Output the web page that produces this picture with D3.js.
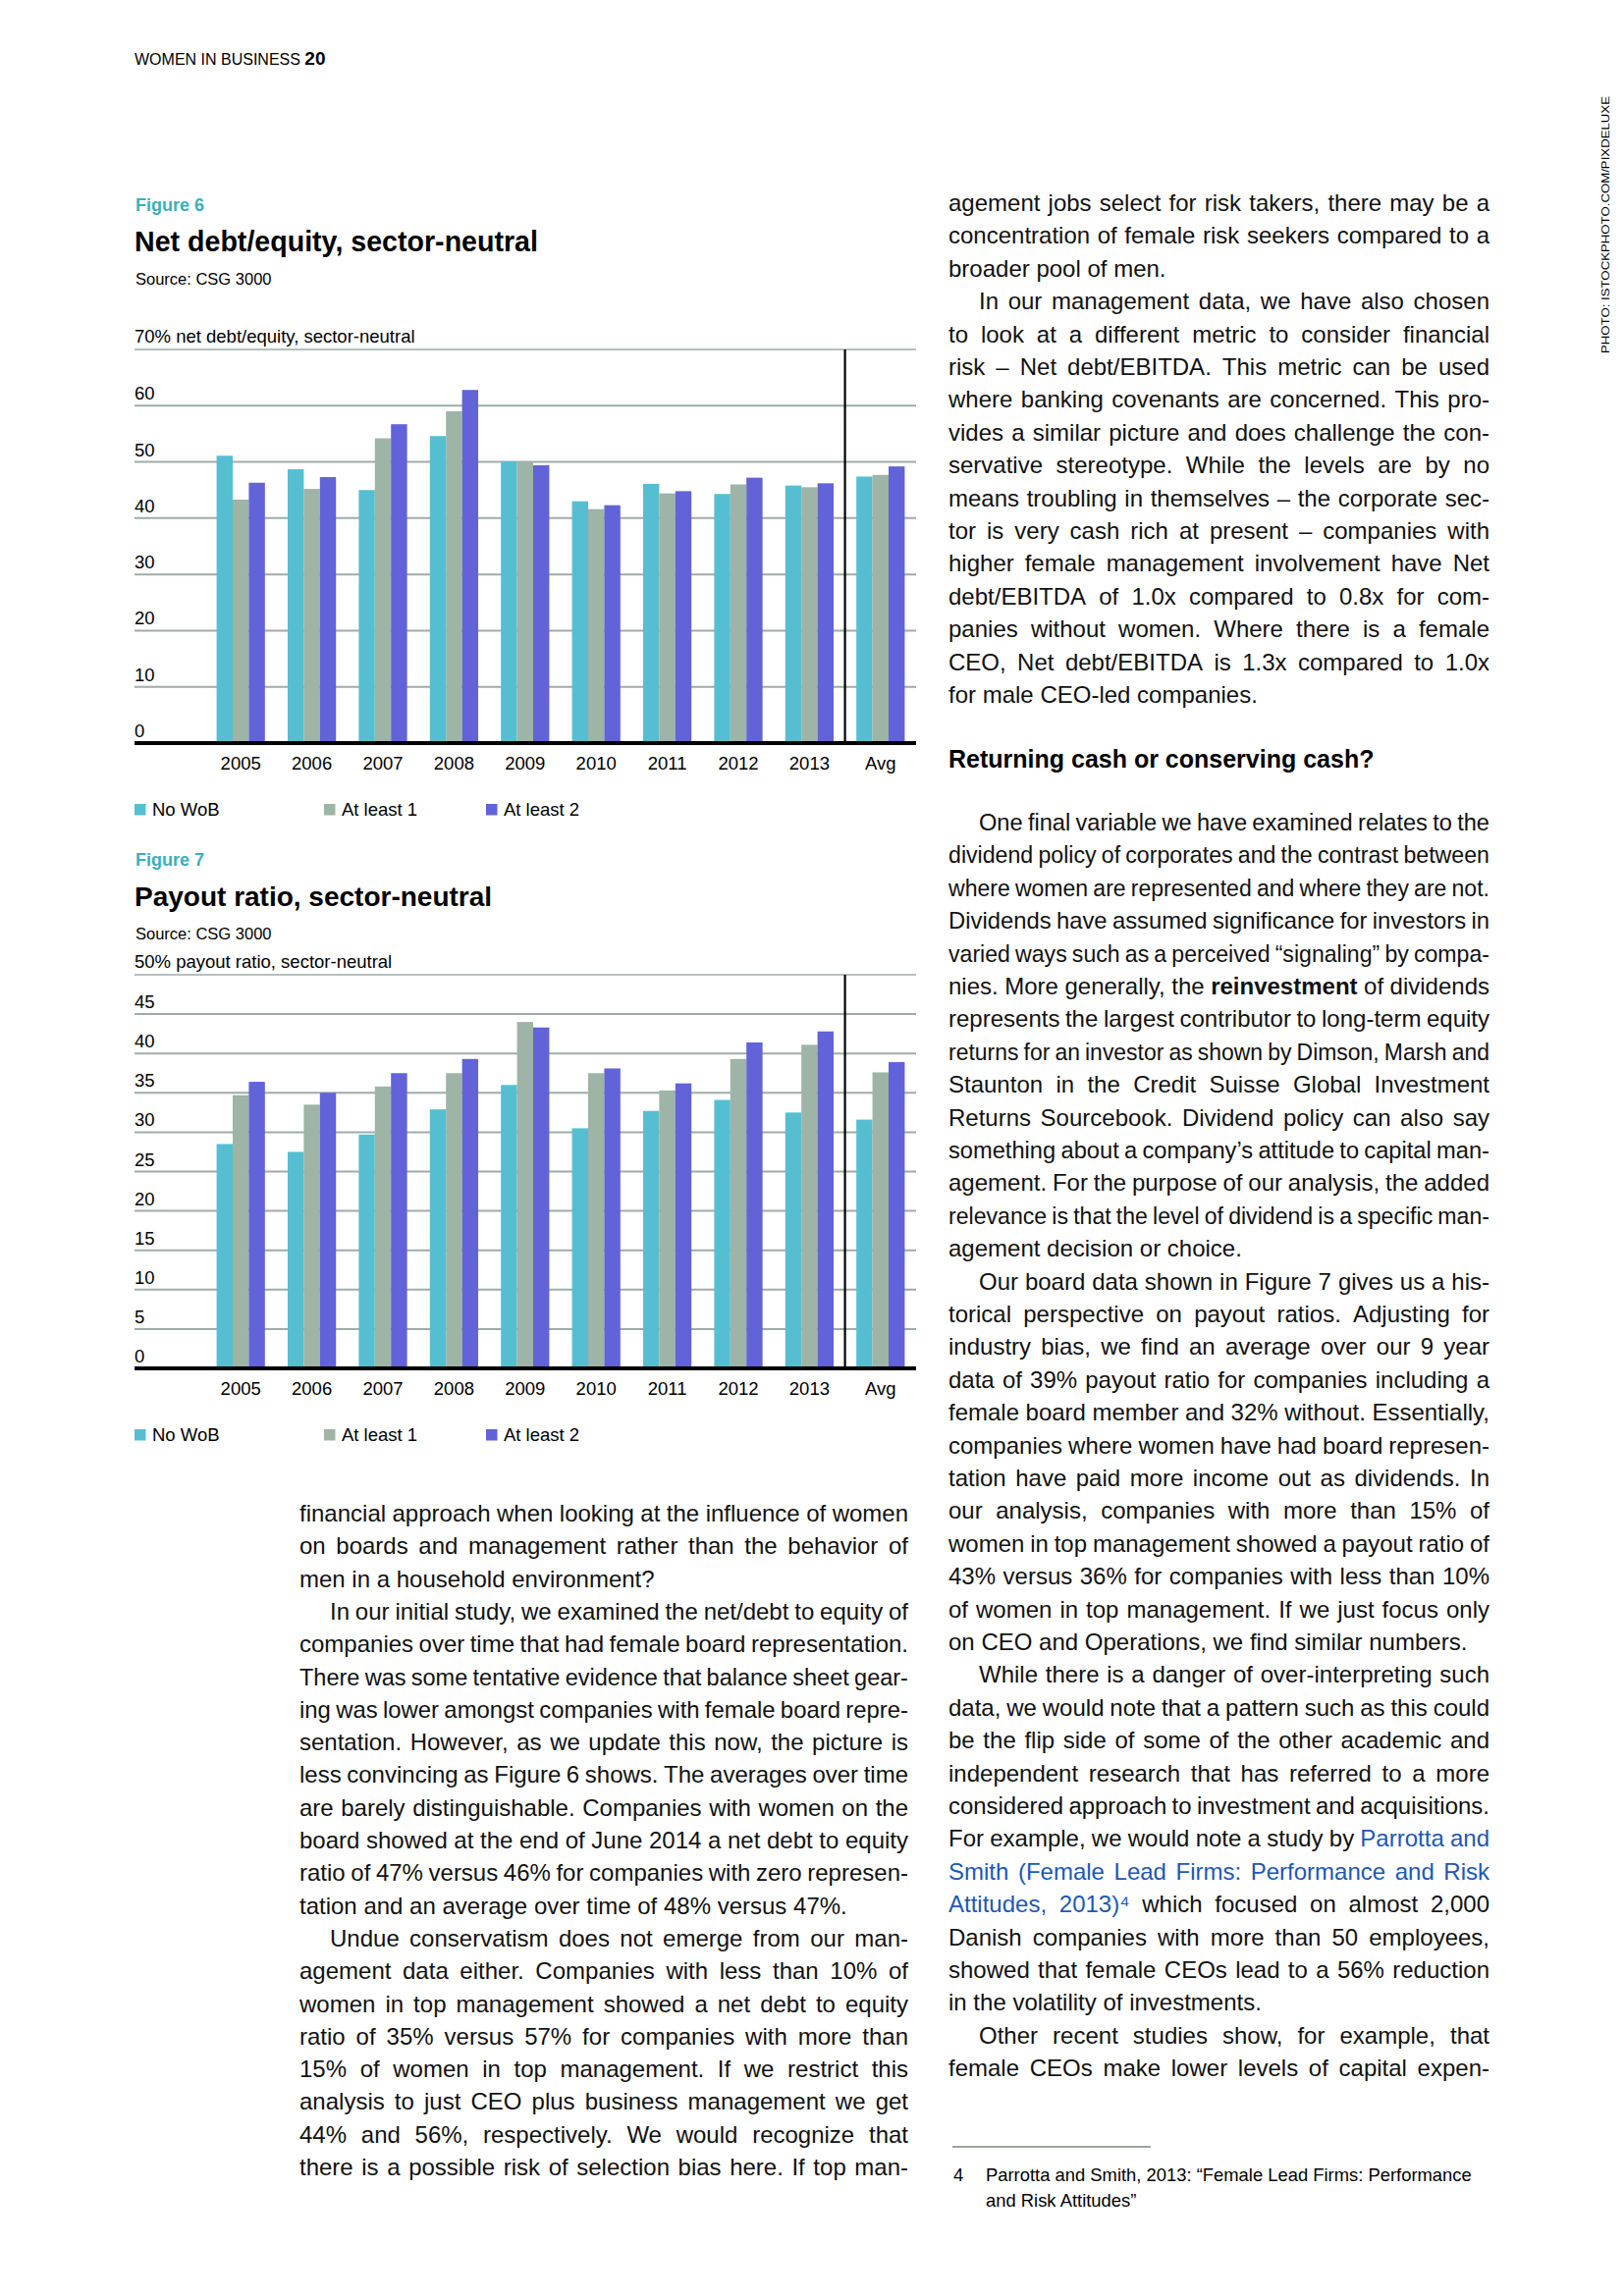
<!DOCTYPE html>
<html>
<head>
<meta charset="utf-8">
<script src="https://cdn.jsdelivr.net/npm/d3@7"></script>
<style>
  html, body { margin: 0; padding: 0; background: #fff; }
  svg { display: block; }
  text { font-family: "Liberation Sans", Arial, sans-serif; }
</style>
</head>
<body>
<div id="page"></div>
<script>
// chart data
const years = ["2005", "2006", "2007", "2008", "2009", "2010", "2011", "2012", "2013", "Avg"];
const seriesNames = ["No WoB", "At least 1", "At least 2"];
const seriesColors = ["#55bfd1", "#9db4a6", "#6262d9"];

// Figure 6: net debt/equity
const debtNoWoB = [51.1, 48.7, 45.0, 54.6, 50.1, 43.0, 46.1, 44.3, 45.8, 47.4];
const debtAtLeast1 = [43.3, 45.2, 54.2, 59.0, 50.1, 41.6, 44.4, 46.0, 45.5, 47.7];
const debtAtLeast2 = [46.3, 47.3, 56.7, 62.8, 49.4, 42.3, 44.8, 47.2, 46.2, 49.2];
const debtTicks = [0, 10, 20, 30, 40, 50, 60];

// Figure 7: payout ratio
const payNoWoB = [28.5, 27.5, 29.7, 32.9, 36.0, 30.5, 32.7, 34.1, 32.5, 31.6];
const payAtLeast1 = [34.7, 33.5, 35.8, 37.5, 44.0, 37.5, 35.3, 39.3, 41.1, 37.6];
const payAtLeast2 = [36.4, 35.0, 37.5, 39.3, 43.3, 38.1, 36.2, 41.4, 42.8, 38.9];
const payTicks = [0, 5, 10, 15, 20, 25, 30, 35, 40, 45];

// body copy ( ">" = indented first line, "|" = last line, "*" bold word, "^" link word )
const leftCol = [
  "financial approach when looking at the influence of women",
  "on boards and management rather than the behavior of",
  "men in a household environment?|",
  ">In our initial study, we examined the net/debt to equity of",
  "companies over time that had female board representation.",
  "There was some tentative evidence that balance sheet gear-",
  "ing was lower amongst companies with female board repre-",
  "sentation. However, as we update this now, the picture is",
  "less convincing as Figure 6 shows. The averages over time",
  "are barely distinguishable. Companies with women on the",
  "board showed at the end of June 2014 a net debt to equity",
  "ratio of 47% versus 46% for companies with zero represen-",
  "tation and an average over time of 48% versus 47%.|",
  ">Undue conservatism does not emerge from our man-",
  "agement data either. Companies with less than 10% of",
  "women in top management showed a net debt to equity",
  "ratio of 35% versus 57% for companies with more than",
  "15% of women in top management. If we restrict this",
  "analysis to just CEO plus business management we get",
  "44% and 56%, respectively. We would recognize that",
  "there is a possible risk of selection bias here. If top man-"
];
const rightTop = [
  "agement jobs select for risk takers, there may be a",
  "concentration of female risk seekers compared to a",
  "broader pool of men.|",
  ">In our management data, we have also chosen",
  "to look at a different metric to consider financial",
  "risk – Net debt/EBITDA. This metric can be used",
  "where banking covenants are concerned. This pro-",
  "vides a similar picture and does challenge the con-",
  "servative stereotype. While the levels are by no",
  "means troubling in themselves – the corporate sec-",
  "tor is very cash rich at present – companies with",
  "higher female management involvement have Net",
  "debt/EBITDA of 1.0x compared to 0.8x for com-",
  "panies without women. Where there is a female",
  "CEO, Net debt/EBITDA is 1.3x compared to 1.0x",
  "for male CEO-led companies.|"
];
const rightBottom = [
  ">One final variable we have examined relates to the",
  "dividend policy of corporates and the contrast between",
  "where women are represented and where they are not.",
  "Dividends have assumed significance for investors in",
  "varied ways such as a perceived “signaling” by compa-",
  "nies. More generally, the *reinvestment of dividends",
  "represents the largest contributor to long-term equity",
  "returns for an investor as shown by Dimson, Marsh and",
  "Staunton in the Credit Suisse Global Investment",
  "Returns Sourcebook. Dividend policy can also say",
  "something about a company’s attitude to capital man-",
  "agement. For the purpose of our analysis, the added",
  "relevance is that the level of dividend is a specific man-",
  "agement decision or choice.|",
  ">Our board data shown in Figure 7 gives us a his-",
  "torical perspective on payout ratios. Adjusting for",
  "industry bias, we find an average over our 9 year",
  "data of 39% payout ratio for companies including a",
  "female board member and 32% without. Essentially,",
  "companies where women have had board represen-",
  "tation have paid more income out as dividends. In",
  "our analysis, companies with more than 15% of",
  "women in top management showed a payout ratio of",
  "43% versus 36% for companies with less than 10%",
  "of women in top management. If we just focus only",
  "on CEO and Operations, we find similar numbers.|",
  ">While there is a danger of over-interpreting such",
  "data, we would note that a pattern such as this could",
  "be the flip side of some of the other academic and",
  "independent research that has referred to a more",
  "considered approach to investment and acquisitions.",
  "For example, we would note a study by ^Parrotta ^and",
  "^Smith ^(Female ^Lead ^Firms: ^Performance ^and ^Risk",
  "^Attitudes, ^2013)⁴ which focused on almost 2,000",
  "Danish companies with more than 50 employees,",
  "showed that female CEOs lead to a 56% reduction",
  "in the volatility of investments.|",
  ">Other recent studies show, for example, that",
  "female CEOs make lower levels of capital expen-"
];

const W = 1654, H = 2339;
const svg = d3.select("#page").append("svg").attr("width", W).attr("height", H);
svg.append("rect").attr("width", W).attr("height", H).attr("fill", "#fff");

// page header
const head = svg.append("text").attr("x", 137).attr("y", 66).attr("fill", "#000");
head.append("tspan").attr("font-size", 16).text("WOMEN IN BUSINESS ");
head.append("tspan").attr("font-size", 19).attr("font-weight", "bold").text("20");

// photo credit
svg.append("text")
  .attr("transform", "translate(1639,360) rotate(-90)")
  .attr("font-size", 11).attr("textLength", 262).attr("lengthAdjust", "spacingAndGlyphs")
  .text("PHOTO: ISTOCKPHOTO.COM/PIXDELUXE");

// figure headings
function figureHead(label, title, base, size) {
  svg.append("text").attr("x", 138).attr("y", base).attr("font-size", 18)
    .attr("font-weight", "bold").attr("fill", "#3ab0b8").text(label);
  svg.append("text").attr("x", 137).attr("y", base + 41).attr("font-size", size)
    .attr("font-weight", "bold").attr("fill", "#000").text(title);
  svg.append("text").attr("x", 138).attr("y", base + 75).attr("font-size", 16.5)
    .attr("fill", "#000").text("Source: CSG 3000");
}
figureHead("Figure 6", "Net debt/equity, sector-neutral", 215, 28.6);
figureHead("Figure 7", "Payout ratio, sector-neutral", 882, 28);

// grouped bar chart
function drawChart(o) {
  const g = svg.append("g");
  const x0 = d3.scaleBand().domain(years).range([209, 933]).paddingInner(0.32).paddingOuter(0.16);
  const x1 = d3.scaleBand().domain(seriesNames).range([0, x0.bandwidth()]);
  const y = d3.scaleLinear().domain([0, o.max]).range([o.bottom, o.top]);

  // gridlines
  g.selectAll(".grid").data(o.ticks.concat([o.max])).enter().append("line")
    .attr("x1", 137).attr("x2", 933)
    .attr("y1", d => y(d)).attr("y2", d => y(d))
    .attr("stroke", d => d === o.max ? "#b4c0bd" : "#9eaca9").attr("stroke-width", 2);

  // tick labels
  g.selectAll(".tick").data(o.ticks).enter().append("text")
    .attr("x", 137).attr("y", d => y(d) - 6)
    .attr("font-size", 18.5).attr("fill", "#000").text(d => d);

  g.append("text").attr("x", 137).attr("y", y(o.max) - 7)
    .attr("font-size", 18.5).attr("fill", "#000").text(o.unitLabel);

  // bars
  const rows = [];
  years.forEach((yr, i) => {
    o.series.forEach((arr, s) => rows.push({ year: yr, s: s, v: arr[i] }));
  });
  g.selectAll(".bar").data(rows).enter().append("rect")
    .attr("x", d => x0(d.year) + x1(seriesNames[d.s]))
    .attr("y", d => y(d.v))
    .attr("width", x1.bandwidth())
    .attr("height", d => y(0) - y(d.v))
    .attr("fill", d => seriesColors[d.s]);

  // separator before average
  const sepX = (x0("2013") + x0.bandwidth() + x0("Avg")) / 2;
  g.append("line").attr("x1", sepX).attr("x2", sepX)
    .attr("y1", y(o.max)).attr("y2", y(0))
    .attr("stroke", "#000").attr("stroke-width", 2.2);

  // zero axis
  g.append("line").attr("x1", 137).attr("x2", 933)
    .attr("y1", y(0)).attr("y2", y(0))
    .attr("stroke", "#000").attr("stroke-width", 4);

  // category labels
  g.selectAll(".xl").data(years).enter().append("text")
    .attr("x", d => x0(d) + x0.bandwidth() / 2).attr("y", y(0) + 27)
    .attr("text-anchor", "middle").attr("font-size", 18.5).attr("fill", "#000")
    .text(d => d);

  // legend
  const lx = [137, 330, 495];
  const leg = g.selectAll(".leg").data(seriesNames).enter().append("g")
    .attr("transform", (d, i) => `translate(${lx[i]},${o.legendY})`);
  leg.append("rect").attr("y", -12).attr("width", 11.5).attr("height", 11.5)
    .attr("fill", (d, i) => seriesColors[i]);
  leg.append("text").attr("x", 18).attr("font-size", 18.5).attr("fill", "#000").text(d => d);
}

drawChart({
  series: [debtNoWoB, debtAtLeast1, debtAtLeast2], ticks: debtTicks, max: 70,
  top: 356, bottom: 757, unitLabel: "70% net debt/equity, sector-neutral", legendY: 831
});
drawChart({
  series: [payNoWoB, payAtLeast1, payAtLeast2], ticks: payTicks, max: 50,
  top: 993, bottom: 1394, unitLabel: "50% payout ratio, sector-neutral", legendY: 1468
});

// justified text columns
const FS = 24;
const meas = svg.append("text").attr("font-size", FS).attr("x", -2000).attr("y", -100);
function wordWidth(w, bold) {
  meas.attr("font-weight", bold ? "bold" : "normal").text(w);
  return meas.node().getComputedTextLength();
}
const spaceW = wordWidth("n n") - wordWidth("nn");

function textColumn(lines, x, width, base, lead) {
  lines.forEach((raw, li) => {
    let s = raw, indent = 0, last = false;
    if (s.startsWith(">")) { s = s.slice(1); indent = 31; }
    if (s.endsWith("|")) { s = s.slice(0, -1); last = true; }
    const words = s.split(" ").map(w => {
      let bold = false, link = false;
      if (w.startsWith("*")) { bold = true; w = w.slice(1); }
      if (w.startsWith("^")) { link = true; w = w.slice(1); }
      return { t: w, bold: bold, link: link, w: wordWidth(w, bold) };
    });
    const total = d3.sum(words, d => d.w);
    const avail = width - indent;
    let gap = spaceW, f = 1;
    if (!last && words.length > 1) gap = (avail - total) / (words.length - 1);
    if (gap < spaceW * 0.8) {
      // too tight: keep a minimum gap and condense the line horizontally
      gap = spaceW * 0.8;
      f = avail / (total + gap * (words.length - 1));
    }
    const t = svg.append("text")
      .attr("transform", `translate(${x + indent},${base + li * lead}) scale(${f},1)`)
      .attr("font-size", FS).attr("fill", "#111");
    let cx = 0;
    words.forEach(d => {
      t.append("tspan").attr("x", cx)
        .attr("font-weight", d.bold ? "bold" : "normal")
        .attr("fill", d.link ? "#1c58b5" : "#111")
        .text(d.t);
      cx += d.w + gap;
    });
  });
}

textColumn(leftCol, 305, 620, 1550, 33.3);
textColumn(rightTop, 966, 551, 215, 33.4);
svg.append("text").attr("x", 966).attr("y", 782).attr("font-size", 25)
  .attr("font-weight", "bold").attr("fill", "#000").text("Returning cash or conserving cash?");
textColumn(rightBottom, 966, 551, 846, 33.4);

// footnote
svg.append("line").attr("x1", 970).attr("x2", 1172).attr("y1", 2187).attr("y2", 2187)
  .attr("stroke", "#9aa69b").attr("stroke-width", 2);
svg.append("text").attr("x", 971).attr("y", 2222).attr("font-size", 18.4).text("4");
svg.append("text").attr("x", 1004).attr("y", 2222).attr("font-size", 18.4)
  .text("Parrotta and Smith, 2013: “Female Lead Firms: Performance");
svg.append("text").attr("x", 1004).attr("y", 2248).attr("font-size", 18.4)
  .text("and Risk Attitudes”");

meas.remove();
</script>
</body>
</html>
